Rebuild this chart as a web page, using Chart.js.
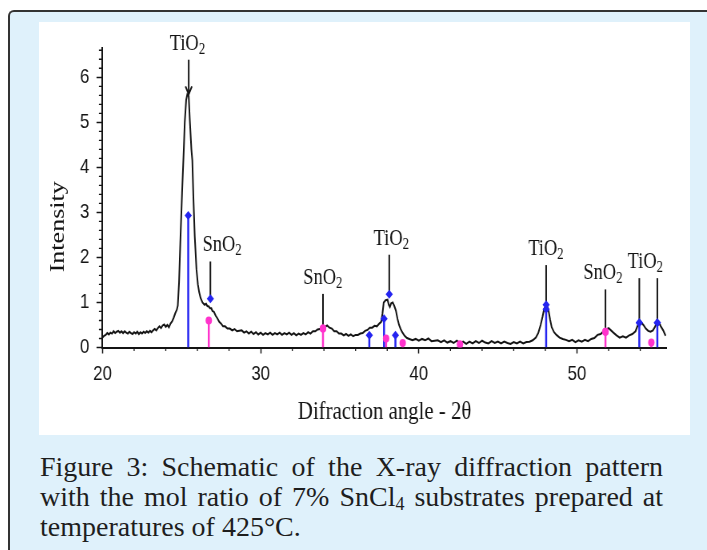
<!DOCTYPE html>
<html>
<head>
<meta charset="utf-8">
<script src="https://cdn.jsdelivr.net/npm/chart.js"></script>
<style>
  html, body { margin:0; padding:0; background:#fff; width:707px; height:550px; overflow:hidden; }
  .panel { position:absolute; left:8px; top:10px; width:760px; height:600px; background:#dff1fb;
           border-left:2px solid #333; border-top:2px solid #333; border-top-left-radius:6px; }
  .plot { position:absolute; left:39px; top:22px; width:651px; height:413px; background:#fff; overflow:hidden; }
  .squeeze { width:814px; height:413px; transform:scaleX(0.8); transform-origin:0 0; }
  .caption { position:absolute; left:40px; top:452px; width:623px; font-family:"Liberation Serif", serif;
             font-size:28px; line-height:30px; color:#1e1e1e; }
  .caption .j { text-align:justify; text-align-last:justify; }
  .caption sub { font-size:18px; line-height:0; vertical-align:-4px; }
</style>
</head>
<body>
<div class="panel"></div>
<div class="plot"><div class="squeeze"><canvas id="xrd" width="814" height="413"></canvas></div></div>
<div class="caption">
  <div class="j">Figure 3: Schematic of the X-ray diffraction pattern</div>
  <div class="j">with the mol ratio of 7% SnCl<sub>4</sub> substrates prepared at</div>
  <div>temperatures of 425°C.</div>
</div>
<script>
	// measured trace: 2θ (deg) and intensity
	var twoTheta = [
		20.00,20.10,20.20,20.30,20.40,20.50,20.60,20.70,20.80,20.90,
		21.00,21.10,21.20,21.30,21.40,21.50,21.60,21.70,21.80,21.90,
		22.00,22.10,22.20,22.30,22.40,22.50,22.60,22.70,22.80,22.90,
		23.00,23.10,23.20,23.30,23.40,23.50,23.60,23.70,23.80,23.90,
		24.00,24.10,24.20,24.30,24.40,24.50,24.60,24.70,24.76,24.84,
		24.92,25.03,25.14,25.20,25.29,25.36,25.45,25.52,25.62,25.68,
		25.75,25.83,25.94,26.03,26.11,26.20,26.32,26.45,26.55,26.63,
		26.72,26.80,26.88,26.95,27.05,27.15,27.26,27.38,27.50,27.62,
		27.75,27.90,28.05,28.20,28.35,28.50,28.65,28.80,28.95,29.10,
		29.25,29.40,29.55,29.70,29.85,30.00,30.15,30.30,30.45,30.60,
		30.75,30.90,31.05,31.20,31.35,31.50,31.65,31.80,31.95,32.10,
		32.25,32.40,32.55,32.70,32.85,33.00,33.15,33.30,33.45,33.60,
		33.75,33.90,34.05,34.20,34.35,34.50,34.65,34.80,34.95,35.10,
		35.25,35.40,35.55,35.70,35.85,36.00,36.15,36.30,36.45,36.60,
		36.75,36.90,37.05,37.20,37.35,37.50,37.62,37.70,37.78,37.90,
		38.02,38.10,38.17,38.25,38.35,38.45,38.55,38.65,38.75,38.85,
		38.95,39.10,39.25,39.40,39.60,39.80,40.00,40.20,40.40,40.60,
		40.80,41.00,41.20,41.40,41.60,41.80,42.00,42.20,42.40,42.60,
		42.80,43.00,43.20,43.40,43.60,43.80,44.00,44.20,44.40,44.60,
		44.80,45.00,45.20,45.40,45.60,45.80,46.00,46.20,46.40,46.60,
		46.80,47.00,47.20,47.40,47.55,47.70,47.82,47.92,48.02,48.10,
		48.20,48.30,48.40,48.55,48.70,48.90,49.10,49.30,49.50,49.70,
		49.90,50.10,50.30,50.50,50.70,50.90,51.10,51.30,51.50,51.70,
		51.85,52.00,52.15,52.30,52.50,52.70,52.90,53.10,53.30,53.50,
		53.70,53.85,53.95,54.05,54.20,54.35,54.50,54.65,54.80,54.95,
		55.05,55.15,55.30,55.45,55.60
	];
	var intensity = [
		0.22,0.26,0.28,0.32,0.29,0.33,0.31,0.36,0.32,0.35,
		0.37,0.33,0.36,0.32,0.36,0.33,0.31,0.35,0.32,0.30,
		0.34,0.31,0.35,0.30,0.34,0.31,0.35,0.32,0.36,0.33,
		0.37,0.34,0.38,0.41,0.38,0.43,0.47,0.43,0.49,0.51,
		0.46,0.50,0.45,0.53,0.58,0.66,0.76,0.84,0.93,1.45,
		2.33,3.43,4.40,5.00,5.50,5.62,5.58,5.05,4.40,4.15,
		3.29,2.48,1.74,1.40,1.23,1.10,1.00,0.95,0.97,0.92,
		0.91,0.87,0.87,0.81,0.79,0.71,0.65,0.57,0.53,0.47,
		0.47,0.42,0.42,0.38,0.41,0.36,0.37,0.38,0.33,0.36,
		0.31,0.35,0.30,0.34,0.29,0.33,0.28,0.32,0.29,0.33,
		0.28,0.32,0.29,0.33,0.28,0.32,0.29,0.33,0.28,0.32,
		0.27,0.31,0.28,0.32,0.29,0.34,0.31,0.36,0.36,0.40,
		0.41,0.45,0.45,0.49,0.44,0.42,0.36,0.36,0.31,0.31,
		0.27,0.30,0.26,0.29,0.25,0.28,0.28,0.31,0.32,0.37,
		0.39,0.44,0.44,0.48,0.47,0.53,0.57,0.75,1.00,1.05,
		1.06,0.95,0.90,0.98,1.00,0.92,0.82,0.64,0.50,0.41,
		0.34,0.26,0.21,0.19,0.16,0.19,0.15,0.19,0.16,0.20,
		0.14,0.15,0.16,0.12,0.16,0.11,0.14,0.10,0.15,0.09,
		0.13,0.08,0.13,0.09,0.14,0.10,0.15,0.11,0.09,0.14,
		0.10,0.13,0.09,0.13,0.10,0.08,0.12,0.09,0.13,0.09,
		0.12,0.13,0.16,0.22,0.32,0.50,0.68,0.85,0.93,0.95,
		0.82,0.62,0.45,0.34,0.28,0.22,0.19,0.17,0.14,0.17,
		0.12,0.16,0.13,0.17,0.14,0.19,0.21,0.28,0.30,0.37,
		0.40,0.43,0.38,0.33,0.27,0.22,0.25,0.22,0.27,0.30,
		0.36,0.50,0.61,0.56,0.50,0.42,0.37,0.35,0.38,0.47,
		0.60,0.58,0.47,0.38,0.26
	];

	// reference lines of both phases (position, height)
	var tio2Pos = [25.42, 36.87, 37.80, 38.52, 48.05, 53.94, 55.08];
	var tio2Top = [2.93, 0.27, 0.64, 0.27, 0.85, 0.55, 0.55];
	var sno2Pos = [26.72, 33.94, 37.93, 38.98, 42.60, 51.80, 54.70];
	var sno2Top = [0.60, 0.42, 0.20, 0.10, 0.07, 0.35, 0.11];

	// peak labels and their leader lines
	var peakName   = ['TiO2', 'SnO2', 'SnO2', 'TiO2', 'TiO2', 'SnO2', 'TiO2'];
	var peakLabelX = [25.37, 27.56, 33.93, 38.26, 48.04, 51.64, 54.32];
	var leaderX    = [[25.45], [26.82], [33.94], [38.13], [48.05], [51.80], [53.94, 55.08]];
	var leaderTop  = [6.39, 1.91, 1.19, 2.06, 1.83, 1.29, 1.54];
	var leaderEnd  = [5.62, 1.08, 0.42, 1.18, 0.95, 0.35, 0.55];
	var leaderMark = ['arrow', 'TiO2', 'SnO2', 'TiO2', 'TiO2', 'SnO2', 'TiO2'];

	var xTicks = [20, 30, 40, 50];
	var yTicks = [0, 1, 2, 3, 4, 5, 6];

	var BLUE = '#2424f0';
	var PINK = '#ff33cc';
	var INK = '#141414';

	// vertical sticks from 0 to each height, broken by nulls
	function sticks(pos, top) {
		var out = [];
		for (let i = 0; i < pos.length; i++) {
			out.push({x: pos[i], y: 0}, {x: pos[i], y: top[i]}, {x: pos[i], y: null});
		}
		return out;
	}

	// marker points: stick tops plus leader ends of the same phase
	function marks(pos, top, phase) {
		var out = pos.map((p, i) => ({x: p, y: top[i]}));
		for (let i = 0; i < leaderX.length; i++) {
			if (leaderMark[i] != phase) continue;
			leaderX[i].forEach(lx => out.push({x: lx, y: leaderEnd[i]}));
		}
		return out;
	}

	var trace = twoTheta.map((t, i) => ({x: t, y: intensity[i]}));

	function drawChem(ctx, name, cx, baseY) {
		var base = name.slice(0, -1), sub = name.slice(-1);
		ctx.font = '23px "Liberation Serif"';
		var w1 = ctx.measureText(base).width;
		ctx.font = '16px "Liberation Serif"';
		var w2 = ctx.measureText(sub).width;
		var x0 = cx - (w1 + w2) / 2;
		ctx.fillStyle = INK;
		ctx.textAlign = 'left';
		ctx.textBaseline = 'alphabetic';
		ctx.font = '23px "Liberation Serif"';
		ctx.fillText(base, x0, baseY);
		ctx.font = '16px "Liberation Serif"';
		ctx.fillText(sub, x0 + w1, baseY + 4);
	}

	var peakMarks = {
		id: 'peakMarks',
		beforeDatasetsDraw(chart) {
			var ctx = chart.ctx, xs = chart.scales.x, ys = chart.scales.y;
			ctx.save();
			ctx.strokeStyle = INK;
			ctx.lineWidth = 2;
			for (let i = 0; i < leaderX.length; i++) {
				leaderX[i].forEach(lx => {
					var px = xs.getPixelForValue(lx);
					var top = ys.getPixelForValue(leaderTop[i]);
					var end = ys.getPixelForValue(leaderEnd[i]);
					ctx.beginPath();
					ctx.moveTo(px, top);
					ctx.lineTo(px, end);
					ctx.stroke();
					if (leaderMark[i] == 'arrow') {
						ctx.beginPath();
						ctx.moveTo(px - 4, end - 8);
						ctx.lineTo(px, end);
						ctx.lineTo(px + 4, end - 8);
						ctx.stroke();
					}
				});
			}
			ctx.restore();
		},
		afterDraw(chart) {
			var ctx = chart.ctx, xs = chart.scales.x, ys = chart.scales.y;
			var area = chart.chartArea;
			ctx.save();

			// minor ticks
			ctx.strokeStyle = INK;
			ctx.lineWidth = 1.3;
			ctx.beginPath();
			for (let v = 22; v < xs.max; v += 2) {
				if (v % 10 == 0) continue;
				var px = xs.getPixelForValue(v);
				ctx.moveTo(px, area.bottom);
				ctx.lineTo(px, area.bottom + 3.5);
			}
			for (let k = 1; k * 0.2 < ys.max; k++) {
				if (k % 5 == 0) continue;
				var py = ys.getPixelForValue(k * 0.2);
				ctx.moveTo(area.left - 4.5, py);
				ctx.lineTo(area.left, py);
			}
			ctx.stroke();

			// peak labels
			for (let i = 0; i < peakName.length; i++) {
				var lx = xs.getPixelForValue(peakLabelX[i]);
				var ly = ys.getPixelForValue(leaderTop[i]) - 10;
				drawChem(ctx, peakName[i], lx, ly);
			}

			// y-axis title
			ctx.translate(31, ys.getPixelForValue(2.68));
			ctx.rotate(-Math.PI / 2);
			ctx.font = '26px "Liberation Serif"';
			ctx.fillStyle = INK;
			ctx.textAlign = 'center';
			ctx.textBaseline = 'alphabetic';
			ctx.fillText('Intensity', 0, 0);
			ctx.restore();
		}
	};

	var data = {
		datasets: [
			{ type: 'scatter', data: marks(tio2Pos, tio2Top, 'TiO2'), pointStyle: 'rectRot', pointRadius: 4.5,
			  backgroundColor: BLUE, borderWidth: 0, order: 1 },
			{ type: 'scatter', data: marks(sno2Pos, sno2Top, 'SnO2'), pointStyle: 'circle', pointRadius: 4,
			  backgroundColor: PINK, borderWidth: 0, order: 1 },
			{ type: 'line', data: sticks(tio2Pos, tio2Top), borderColor: BLUE, borderWidth: 2.5,
			  pointRadius: 0, spanGaps: false, order: 2 },
			{ type: 'line', data: sticks(sno2Pos, sno2Top), borderColor: PINK, borderWidth: 2.5,
			  pointRadius: 0, spanGaps: false, order: 2 },
			{ type: 'line', data: trace, borderColor: INK, borderWidth: 2, pointRadius: 0,
			  tension: 0, order: 3 }
		]
	};

	var axisFont = { family: 'Liberation Sans', size: 21 };

	var options = {
		responsive: false,
		animation: false,
		devicePixelRatio: 1,
		layout: { padding: { top: 26, right: 29.4, left: 0, bottom: 0 } },
		plugins: { legend: { display: false }, tooltip: { enabled: false } },
		scales: {
			x: {
				type: 'linear', min: 20, max: 55.67,
				afterFit: s => { s.height = 87.5; },
				afterBuildTicks: s => { s.ticks = xTicks.map(v => ({value: v})); },
				grid: { drawOnChartArea: false, tickLength: 6, tickColor: INK, tickWidth: 1.5 },
				border: { display: true, color: INK, width: 2 },
				ticks: { color: INK, font: axisFont, padding: 8, maxRotation: 0, autoSkip: false },
				title: { display: true, text: 'Difraction angle - 2θ', color: INK,
				         font: { family: 'Liberation Serif', size: 26 }, padding: { top: 0, bottom: 7.4 } }
			},
			y: {
				type: 'linear', min: 0, max: 6.65,
				afterFit: s => { s.width = 79.4; },
				afterBuildTicks: s => { s.ticks = yTicks.map(v => ({value: v})); },
				grid: { drawOnChartArea: false, tickLength: 7.5, tickColor: INK, tickWidth: 1.5 },
				border: { display: true, color: INK, width: 2 },
				ticks: { color: INK, font: axisFont, padding: 9, autoSkip: false }
			}
		}
	};

	var ctx = document.getElementById('xrd').getContext('2d');
	var xrdChart = new Chart(ctx, { type: 'scatter', data: data, options: options, plugins: [peakMarks] });
</script>
</body>
</html>
